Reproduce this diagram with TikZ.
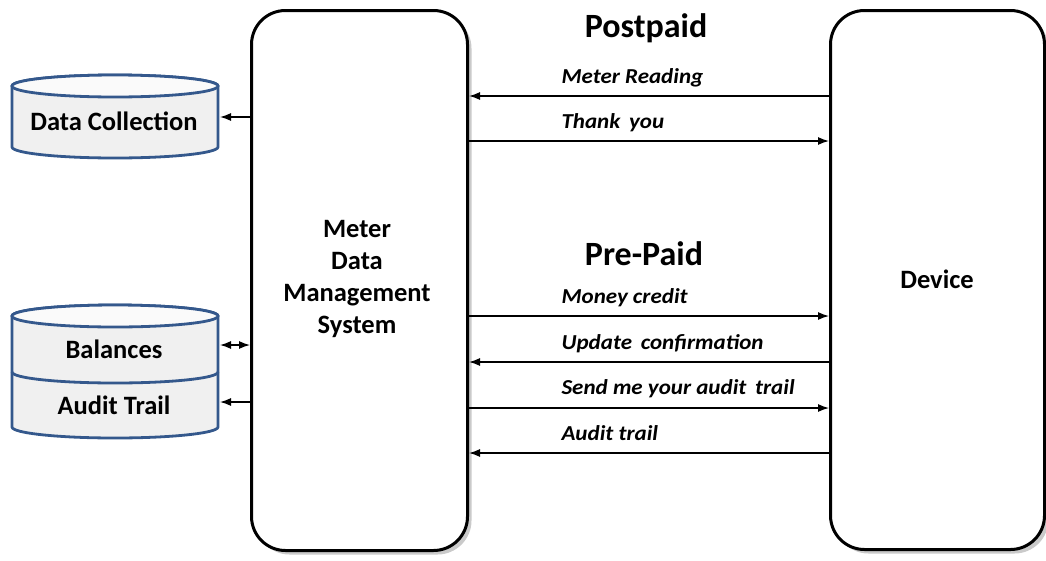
\documentclass[tikz,border=0pt]{standalone}
\usepackage{fontspec}
\setmainfont{Carlito}
\newfontfamily\msgfont[FakeStretch=1.08]{Carlito}
\usetikzlibrary{shadows,arrows.meta}
\definecolor{cylblue}{RGB}{52,88,140}
\definecolor{cylfill}{RGB}{240,240,240}
\definecolor{cyltop}{RGB}{250,250,250}
\begin{document}
\begin{tikzpicture}[x=1pt,y=-1pt,
  bigbox/.style={draw=black,line width=3pt,rounded corners=34pt,fill=white,
    drop shadow={shadow xshift=4pt,shadow yshift=-4pt,opacity=0.35,fill=black!60}},
  cyl/.style={draw=cylblue,line width=2.8pt,fill=cylfill},
  cyltopst/.style={draw=cylblue,line width=2.8pt,fill=cyltop},
  boldtext/.style={font=\fontsize{26.5}{32}\selectfont\bfseries,align=center},
  headtext/.style={font=\fontsize{34}{38}\selectfont\bfseries},
  msgtext/.style={font=\msgfont\fontsize{21.3}{24}\selectfont\bfseries\itshape,anchor=base west},
  msg/.style={line width=1.3pt,-{Latex[length=11pt,width=8pt]}},
  dmsg/.style={line width=1.3pt,{Latex[length=11pt,width=8pt]}-{Latex[length=11pt,width=8pt]}}]
\useasboundingbox (0,0) rectangle (1046,560);

% main boxes
\node[bigbox,minimum width=216pt,minimum height=540pt,anchor=north west] (mdms) at (250,9) {};
\node[bigbox,minimum width=214pt,minimum height=539pt,anchor=north west] (device) at (829,9) {};
\node[boldtext] (mdmstext) at (357,279) {Meter\\Data\\Management\\System};
\node[boldtext] (devtext) at (937,279) {Device};

% cylinder 1
\filldraw[cyl] (12,86) -- (12,147) arc[start angle=180,end angle=360,x radius=103pt,y radius=11pt] -- (218,86) arc[start angle=0,end angle=180,x radius=103pt,y radius=11pt] -- cycle;
\filldraw[cyltopst] (115,86) ellipse[x radius=103pt,y radius=11pt];
\node[boldtext] (dc) at (114,121) {Data Collection};
\coordinate (dcr) at (220,117);

% cylinder 2
\filldraw[cyl] (12,316) -- (12,427) arc[start angle=180,end angle=360,x radius=103pt,y radius=11pt] -- (218,316) arc[start angle=0,end angle=180,x radius=103pt,y radius=11pt] -- cycle;
\filldraw[cyltopst] (115,316) ellipse[x radius=103pt,y radius=11pt];
\draw[draw=cylblue,line width=2.8pt] (12,372) arc[start angle=180,end angle=360,x radius=103pt,y radius=11pt];
\node[boldtext] (bal) at (114,349) {Balances};
\node[boldtext] (aud) at (114,405) {Audit Trail};
\coordinate (balr) at (220,345);
\coordinate (audr) at (220,402);

% left connectors
\draw[msg] (mdms.west |- dcr) -- (dcr);
\draw[dmsg] (mdms.west |- balr) -- (balr);
\draw[msg] (mdms.west |- audr) -- (audr);

% headings
\node[headtext] (post) at (646,28) {Postpaid};
\node[headtext] (pre) at (644,254) {Pre-Paid};

% messages
\draw[msg] (device.west |- 0,96) -- (mdms.east |- 0,96);
\node[msgtext] (m1) at (558,83) {Meter Reading};
\draw[msg] (mdms.east |- 0,141) -- (device.west |- 0,141);
\node[msgtext] (m2) at (558,128) {Thank\, you};
\draw[msg] (mdms.east |- 0,316) -- (device.west |- 0,316);
\node[msgtext] (m3) at (558,303) {Money credit};
\draw[msg] (device.west |- 0,362) -- (mdms.east |- 0,362);
\node[msgtext] (m4) at (558,349) {Update\, confirmation};
\draw[msg] (mdms.east |- 0,408) -- (device.west |- 0,408);
\node[msgtext] (m5) at (558,394) {Send me your audit\, trail};
\draw[msg] (device.west |- 0,453) -- (mdms.east |- 0,453);
\node[msgtext] (m6) at (558,440) {Audit trail};
\end{tikzpicture}
\end{document}
